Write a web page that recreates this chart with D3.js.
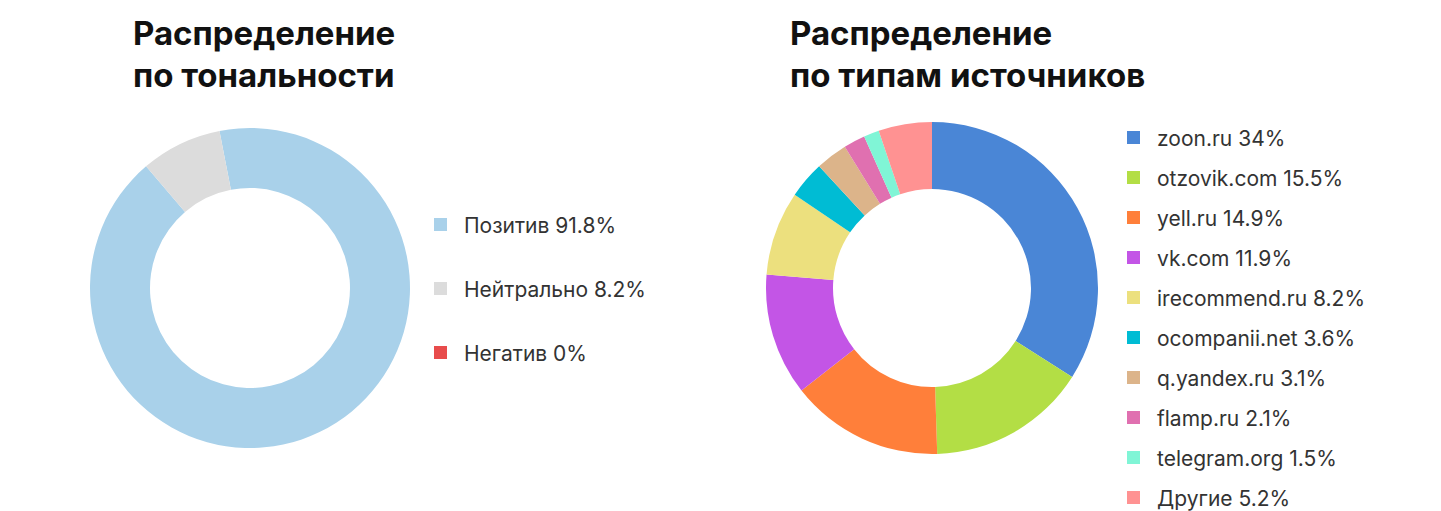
<!DOCTYPE html>
<html><head><meta charset="utf-8">
<script src="https://cdnjs.cloudflare.com/ajax/libs/d3/7.8.5/d3.min.js"></script>
<style>body{margin:0;background:#fff;font-family:Inter,"Open Sans",sans-serif;}</style>
</head><body>
<script>
// tonality
var toneLabels = ["Позитив", "Нейтрально", "Негатив"];
var toneValues = [91.8, 8.2, 0];
var toneColors = ["#a9d1ea", "#dcdcdc", "#e84c4c"];

// source types
var srcLabels = ["zoon.ru", "otzovik.com", "yell.ru", "vk.com", "irecommend.ru",
    "ocompanii.net", "q.yandex.ru", "flamp.ru", "telegram.org", "Другие"];
var srcValues = [34, 15.5, 14.9, 11.9, 8.2, 3.6, 3.1, 2.1, 1.5, 5.2];
var srcColors = ["#4a86d6", "#b3de45", "#ff7f3a", "#c355e6", "#ece07e",
    "#00bcd4", "#dcb48a", "#e070b0", "#80f5d6", "#ff9292"];

var svg = d3.select("body").append("svg").attr("width", 1441).attr("height", 511);

function title(x, lines) {
    var t = svg.append("text").attr("x", x).attr("y", 45)
        .style("font-size", "33px").style("font-weight", 700).attr("fill", "#111");
    lines.forEach(function(l, i) {
        t.append("tspan").attr("x", x).attr("dy", i ? 42 : 0).text(l);
    });
}

function donut(cx, cy, r0, r1, start, values, colors) {
    var pie = d3.pie().sort(null).startAngle(start).endAngle(start + 2*Math.PI);
    var arc = d3.arc().innerRadius(r0).outerRadius(r1);
    svg.append("g").attr("transform", "translate(" + cx + "," + cy + ")")
        .selectAll("path").data(pie(values)).enter().append("path")
        .attr("d", arc).attr("fill", function(d, i) { return colors[i]; });
}

function legend(x, y0, step, labels, values, colors) {
    var g = svg.append("g");
    labels.forEach(function(l, i) {
        var y = y0 + i*step;
        g.append("rect").attr("x", x).attr("y", y - 7).attr("width", 13).attr("height", 13)
            .attr("fill", colors[i]);
        g.append("text").attr("x", x + 30).attr("y", y + 8)
            .style("font-size", "21px").attr("fill", "#333")
            .text(l + " " + values[i] + "%");
    });
}

title(133, ["Распределение", "по тональности"]);
donut(250, 288, 100, 160, -11*Math.PI/180, toneValues, toneColors);
legend(434, 225, 64, toneLabels, toneValues, toneColors);

title(790, ["Распределение", "по типам источников"]);
donut(932, 288, 99, 166, 0, srcValues, srcColors);
legend(1127, 138, 40, srcLabels, srcValues, srcColors);
</script>
</body></html>
